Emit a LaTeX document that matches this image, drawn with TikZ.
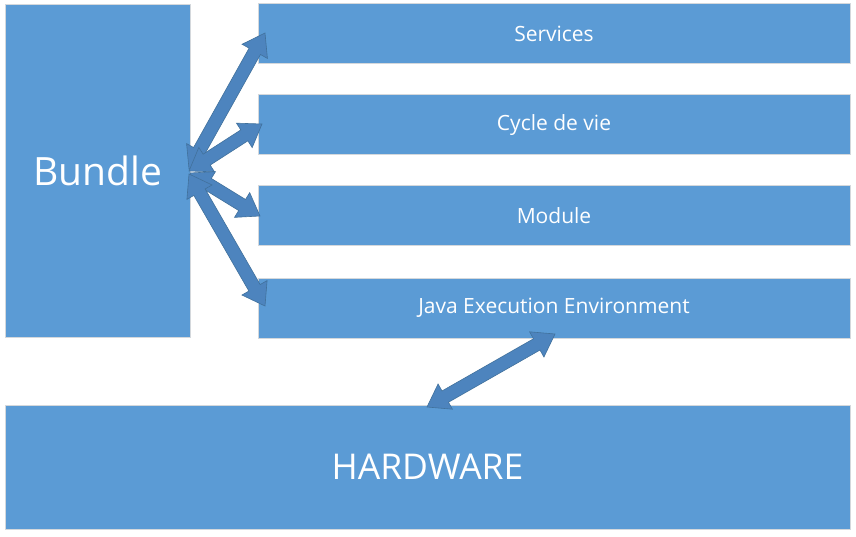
\documentclass[tikz,border=0pt]{standalone}
\usepackage{fontspec}
\setmainfont{Open Sans}
\usetikzlibrary{calc}
\definecolor{boxblue}{HTML}{5B9BD5}
\definecolor{arrowblue}{HTML}{4D84BE}
\definecolor{arrowedge}{HTML}{41719C}
\definecolor{boxedge}{HTML}{D4D8DC}
\tikzset{
  box/.style={rectangle, fill=boxblue, draw=boxedge, line width=1pt, inner sep=0pt, outer sep=0pt, text=white, font=\fontsize{21}{25}\selectfont},
  bigtext/.style={font=\fontsize{39}{47}\selectfont},
  hwtext/.style={font=\fontsize{35.5}{43}\selectfont},
  arrowshape/.style={fill=arrowblue, draw=arrowedge, line width=0.6pt, line join=miter}
}
\newcommand\dblarrow[2]{%
  \path ($(#1)!21pt!(#2)$) coordinate (p1) ($(#2)!21pt!(#1)$) coordinate (p2);
  \filldraw[arrowshape] (#1) -- ($(p1)!14.5pt!90:(#2)$) -- ($(p1)!6.5pt!90:(#2)$)
    -- ($(p2)!6.5pt!-90:(#1)$) -- ($(p2)!14.5pt!-90:(#1)$) -- (#2)
    -- ($(p2)!14.5pt!90:(#1)$) -- ($(p2)!6.5pt!90:(#1)$)
    -- ($(p1)!6.5pt!-90:(#2)$) -- ($(p1)!14.5pt!-90:(#2)$) -- cycle;}
\begin{document}
\begin{tikzpicture}[x=1pt,y=-1pt]
\useasboundingbox[fill=white] (0,0) rectangle (856,537);
\node[box, bigtext, minimum width=185pt, minimum height=332pt] (bundle) at (97.5,171) {Bundle};
\node[box, minimum width=592pt, minimum height=60pt] (services) at (554,34) {Services};
\node[box, minimum width=592pt, minimum height=60pt] (cycle) at (554,125) {Cycle de vie};
\node[box, minimum width=592pt, minimum height=60pt] (module) at (554,216) {Module};
\node[box, minimum width=592pt, minimum height=60pt] (jee) at (554,308) {Java Execution Environment};
\node[box, hwtext, minimum width=845pt, minimum height=124pt] (hardware) at (427.5,467) {HARDWARE};
% arrow ends
\coordinate (bs) at (189,169);
\coordinate (bc) at (189,171);
\coordinate (bm) at (190,173);
\coordinate (bj) at (189,174);
\coordinate (ts) at (265,33);
\coordinate (tc) at (262,124);
\coordinate (tm) at (260,216);
\coordinate (tj) at (265,306);
\coordinate (hj) at (555,334);
\coordinate (hh) at (427,407);
\dblarrow{bs}{ts}
\dblarrow{bc}{tc}
\dblarrow{bm}{tm}
\dblarrow{bj}{tj}
\dblarrow{hh}{hj}
\end{tikzpicture}
\end{document}
